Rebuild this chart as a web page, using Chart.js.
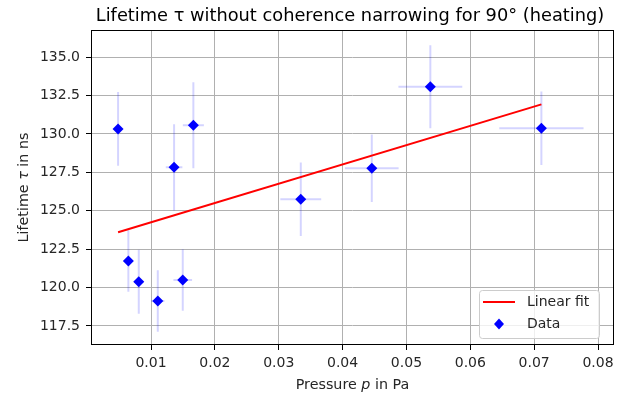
<!DOCTYPE html>
<html><head><meta charset="utf-8">
<script src="https://cdn.jsdelivr.net/npm/chart.js@4.4.0/dist/chart.umd.min.js"></script>
<style>html,body{margin:0;padding:0;background:#fff;overflow:hidden}</style>
</head><body>
<canvas id="c" width="639" height="399"></canvas>
<script>
const pressure    = [0.00484, 0.00645, 0.00808, 0.01106, 0.01497, 0.01361, 0.01663, 0.03345, 0.04457, 0.05374, 0.07113];
const lifetime    = [130.32, 121.73, 120.38, 119.13, 120.49, 127.82, 130.56, 125.74, 127.76, 133.07, 130.36];
const pressureErr = [0.00045, 0.0006, 0.00076, 0.00104, 0.00146, 0.0013, 0.00165, 0.0032, 0.0042, 0.005, 0.0066];
const lifetimeErr = [2.4, 2.0, 2.08, 2.0, 2.0, 2.8, 2.8, 2.39, 2.2, 2.7, 2.39];
const fitX = [0.00484, 0.07113];
const fitY = [123.6, 131.92];
const xTicks = [0.01, 0.02, 0.03, 0.04, 0.05, 0.06, 0.07, 0.08];
const yTicks = [117.5, 120.0, 122.5, 125.0, 127.5, 130.0, 132.5, 135.0];
const titleText = "Lifetime \u03c4 without coherence narrowing for 90\u00b0 (heating)";

const FONT = "'DejaVu Sans', sans-serif";
const TXT = '#262626';

const extras = {
  id: 'extras',
  beforeDatasetsDraw(chart) {
    const ctx = chart.ctx, xs = chart.scales.x, ys = chart.scales.y;
    ctx.save();
    ctx.strokeStyle = 'rgba(0,0,255,0.17)';
    ctx.lineWidth = 2;
    for (let i = 0; i < pressure.length; i++) {
      const px = xs.getPixelForValue(pressure[i]);
      const py = ys.getPixelForValue(lifetime[i]);
      const x0 = xs.getPixelForValue(pressure[i] - pressureErr[i]);
      const x1 = xs.getPixelForValue(pressure[i] + pressureErr[i]);
      const y0 = ys.getPixelForValue(lifetime[i] - lifetimeErr[i]);
      const y1 = ys.getPixelForValue(lifetime[i] + lifetimeErr[i]);
      ctx.beginPath();
      ctx.moveTo(x0, py); ctx.lineTo(x1, py);
      ctx.moveTo(px, y0); ctx.lineTo(px, y1);
      ctx.stroke();
    }
    ctx.restore();
  },
  afterDraw(chart) {
    const ctx = chart.ctx, a = chart.chartArea;
    ctx.save();
    // frame
    ctx.strokeStyle = '#000';
    ctx.lineWidth = 1;
    ctx.strokeRect(Math.round(a.left) + 0.5, Math.round(a.top) + 0.5, Math.round(a.right - a.left) - 1, Math.round(a.bottom - a.top) - 1);
    // title
    ctx.fillStyle = '#000';
    ctx.font = '17.8px ' + FONT;
    ctx.textAlign = 'center';
    ctx.textBaseline = 'alphabetic';
    ctx.fillText(titleText, (a.left + a.right) / 2 - 2.5, 21);
    // x label with italic p
    ctx.fillStyle = TXT;
    const F = '14.3px ' + FONT, FI = 'italic 14.3px ' + FONT;
    drawParts(ctx, [['Pressure ', F], ['p', FI], [' in Pa', F]], (a.left + a.right) / 2, 389);
    // y label
    ctx.save();
    ctx.translate(28, (a.top + a.bottom) / 2);
    ctx.rotate(-Math.PI / 2);
    drawParts(ctx, [['Lifetime ', F], ['\u03c4', FI], [' in ns', F]], 0, 0);
    ctx.restore();
    // legend
    const lx = a.right - 135, ly = a.bottom - 55, lw = 120, lh = 48;
    ctx.fillStyle = 'rgba(255,255,255,0.8)';
    ctx.strokeStyle = '#cccccc';
    ctx.lineWidth = 1;
    roundRect(ctx, lx + 0.5, ly + 0.5, lw, lh, 3);
    ctx.fill(); ctx.stroke();
    ctx.strokeStyle = '#ff0000';
    ctx.lineWidth = 2;
    ctx.beginPath();
    ctx.moveTo(lx + 4, ly + 12); ctx.lineTo(lx + 36, ly + 12);
    ctx.stroke();
    ctx.fillStyle = '#0000ff';
    ctx.beginPath();
    ctx.moveTo(lx + 20, ly + 28.5); ctx.lineTo(lx + 25, ly + 34); ctx.lineTo(lx + 20, ly + 39.5); ctx.lineTo(lx + 15, ly + 34); ctx.closePath();
    ctx.fill();
    ctx.fillStyle = TXT;
    ctx.font = '14px ' + FONT;
    ctx.textAlign = 'left';
    ctx.textBaseline = 'middle';
    ctx.fillText('Linear fit', lx + 48, ly + 12);
    ctx.fillText('Data', lx + 48, ly + 34);
    ctx.restore();
  }
};

function drawParts(ctx, parts, cx, cy) {
  let total = 0;
  for (const [t, f] of parts) { ctx.font = f; total += ctx.measureText(t).width; }
  let x = cx - total / 2;
  ctx.textAlign = 'left';
  ctx.textBaseline = 'alphabetic';
  for (const [t, f] of parts) { ctx.font = f; ctx.fillText(t, x, cy); x += ctx.measureText(t).width; }
}
function roundRect(ctx, x, y, w, h, r) {
  ctx.beginPath();
  ctx.moveTo(x + r, y); ctx.lineTo(x + w - r, y); ctx.quadraticCurveTo(x + w, y, x + w, y + r);
  ctx.lineTo(x + w, y + h - r); ctx.quadraticCurveTo(x + w, y + h, x + w - r, y + h);
  ctx.lineTo(x + r, y + h); ctx.quadraticCurveTo(x, y + h, x, y + h - r);
  ctx.lineTo(x, y + r); ctx.quadraticCurveTo(x, y, x + r, y);
  ctx.closePath();
}

new Chart(document.getElementById('c'), {
  type: 'scatter',
  data: {
    datasets: [
      {
        label: 'Linear fit',
        data: fitX.map((x, i) => ({x, y: fitY[i]})),
        showLine: true,
        borderColor: '#ff0000',
        borderWidth: 2,
        pointRadius: 0,
        order: 1
      },
      {
        label: 'Data',
        data: pressure.map((x, i) => ({x, y: lifetime[i]})),
        pointStyle: 'rectRot',
        pointRadius: 5.5,
        backgroundColor: '#0000ff',
        borderColor: '#0000ff',
        borderWidth: 0,
        order: 0
      }
    ]
  },
  options: {
    responsive: false,
    devicePixelRatio: 1,
    animation: false,
    layout: {padding: {top: 30, right: 25, left: 0, bottom: 0}},
    plugins: {legend: {display: false}, tooltip: {enabled: false}, title: {display: false}},
    scales: {
      x: {
        type: 'linear',
        min: 0.0006,
        max: 0.0825,
        afterBuildTicks: s => { s.ticks = xTicks.map(v => ({value: v})); },
        afterFit: s => { s.height = 54; },
        ticks: {
          callback: v => v.toFixed(2),
          font: {family: FONT, size: 14},
          color: TXT,
          padding: 5,
          maxRotation: 0,
          autoSkip: false
        },
        grid: {color: '#b0b0b0', lineWidth: 1, tickColor: '#000', tickLength: 5, drawTicks: true},
        border: {display: false}
      },
      y: {
        type: 'linear',
        min: 116.26,
        max: 136.76,
        afterBuildTicks: s => { s.ticks = yTicks.map(v => ({value: v})); },
        afterFit: s => { s.width = 91; },
        ticks: {
          callback: v => v.toFixed(1),
          font: {family: FONT, size: 14},
          color: TXT,
          padding: 6,
          autoSkip: false
        },
        grid: {color: '#b0b0b0', lineWidth: 1, tickColor: '#000', tickLength: 5, drawTicks: true},
        border: {display: false}
      }
    }
  },
  plugins: [extras]
});
</script>
</body></html>
